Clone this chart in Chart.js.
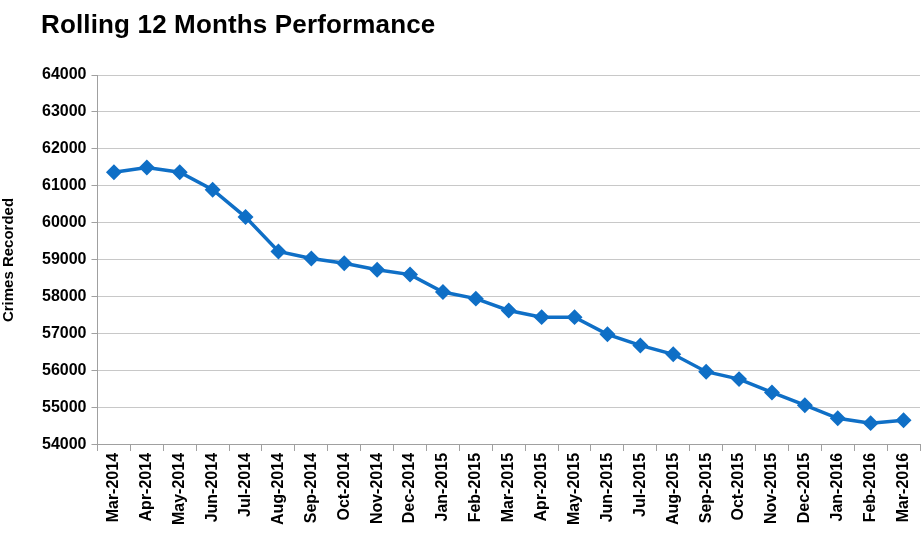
<!DOCTYPE html>
<html>
<head>
<meta charset="utf-8">
<script src="https://cdn.jsdelivr.net/npm/chart.js@4/dist/chart.umd.min.js"></script>
<style>
  body { margin: 0; background: #fff; overflow: hidden; }
  #wrap { position: relative; width: 923px; height: 534px; overflow: hidden; }
  #title { position: absolute; left: 41px; top: 9px; font: bold 26px "Liberation Sans", Arial, sans-serif; letter-spacing: 0.15px; color: #000; }
  canvas { position: absolute; left: 0; top: 0; }
</style>
</head>
<body>
<div id="wrap">
  <canvas id="myChart" width="929" height="534"></canvas>
  <div id="title">Rolling 12 Months Performance</div>
</div>
<script>
var months = ['Mar-2014', 'Apr-2014', 'May-2014', 'Jun-2014', 'Jul-2014', 'Aug-2014', 'Sep-2014', 'Oct-2014', 'Nov-2014', 'Dec-2014',
  'Jan-2015', 'Feb-2015', 'Mar-2015', 'Apr-2015', 'May-2015', 'Jun-2015', 'Jul-2015', 'Aug-2015', 'Sep-2015', 'Oct-2015',
  'Nov-2015', 'Dec-2015', 'Jan-2016', 'Feb-2016', 'Mar-2016'];
var crimes = [61370, 61500, 61370, 60900, 60160, 59230, 59040, 58910, 58735, 58605,
  58135, 57955, 57635, 57455, 57455, 56990, 56690, 56450, 55980, 55780,
  55420, 55075, 54720, 54590, 54670];
var yMin = 54000;
var yMax = 64000;
var yStep = 1000;

var ctx = document.getElementById('myChart').getContext('2d');
var myChart = new Chart(ctx, {
    type: 'line',
    data: {
        labels: months,
        datasets: [{
            label: 'Crimes Recorded',
            data: crimes,
            borderColor: '#0F6FC6',
            backgroundColor: '#0F6FC6',
            borderWidth: 3.5,
            pointStyle: 'rectRot',
            pointRadius: 5.5,
            pointHoverRadius: 5.5,
            tension: 0
        }]
    },
    options: {
        responsive: false,
        animation: false,
        layout: { padding: { top: 75, right: 0, bottom: 7, left: 0 } },
        plugins: {
            legend: { display: false },
            tooltip: { enabled: false }
        },
        scales: {
            x: {
                offset: true,
                grid: { drawOnChartArea: false, drawTicks: true, tickLength: 6, color: '#a0a0a0', offset: true },
                border: { color: '#a0a0a0' },
                ticks: {
                    minRotation: 90,
                    maxRotation: 90,
                    autoSkip: false,
                    color: '#000',
                    padding: 2,
                    font: { family: '"Liberation Sans", Arial', size: 16, weight: 'bold' }
                }
            },
            y: {
                min: yMin,
                max: yMax,
                ticks: {
                    stepSize: yStep,
                    color: '#000',
                    padding: 5,
                    font: { family: '"Liberation Sans", Arial', size: 16, weight: 'bold' },
                    callback: function (v) { return String(v); }
                },
                grid: { color: '#c8c8c8', lineWidth: 1, tickLength: 6, tickColor: '#a0a0a0' },
                border: { color: '#a0a0a0' },
                title: {
                    display: true,
                    text: 'Crimes Recorded',
                    color: '#000',
                    padding: { top: 0, bottom: 19 },
                    font: { family: '"Liberation Sans", Arial', size: 15, weight: 'bold' }
                }
            }
        }
    }
});
</script>
</body>
</html>
